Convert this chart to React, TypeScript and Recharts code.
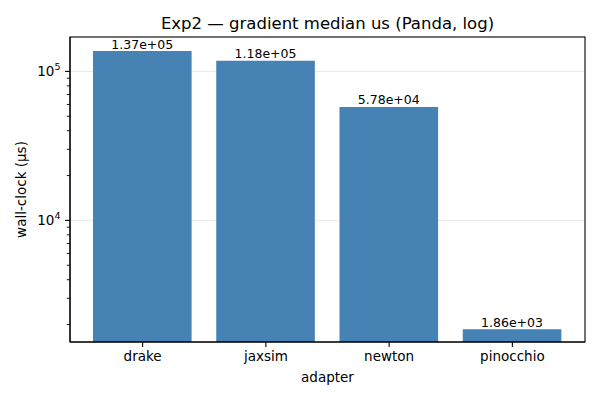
import { BarChart, Bar, XAxis, YAxis, CartesianGrid, LabelList } from "recharts"

const adapters = ["drake", "jaxsim", "newton", "pinocchio"]
const medianUs = [137000, 118000, 57800, 1860]
const majorTicks = [10000, 100000]
const minorTicks = [2000, 3000, 4000, 5000, 6000, 7000, 8000, 9000, 20000, 30000, 40000, 50000, 60000, 70000, 80000, 90000]

const data = adapters.map((name, i) => ({ name, value: medianUs[i] }))

const FONT = "DejaVu Sans, sans-serif"

// plot box, matches the chart margins below
const PLOT = { left: 70, top: 37, right: 585, bottom: 342 }

function sci(v: number) {
    const [m, e] = v.toExponential(2).split("e")
    const n = parseInt(e, 10)
    const sign = n < 0 ? "-" : "+"
    return `${m}e${sign}${String(Math.abs(n)).padStart(2, "0")}`
}

function YTick(props: any) {
    const { x, y, payload } = props
    const v = payload.value as number
    const major = majorTicks.includes(v)
    if (!major) {
        return <line x1={x} x2={x - 3.2} y1={y} y2={y} stroke="#000" strokeWidth={0.9} />
    }
    const exp = Math.round(Math.log10(v))
    return (
        <g>
            <line x1={x} x2={x - 5} y1={y} y2={y} stroke="#000" strokeWidth={1.1} />
            <text x={x - 9.5} y={y + 4.5} textAnchor="end" fontFamily={FONT} fontSize={13.5} fill="#000">
                10
                <tspan dy={-6} fontSize={9.5}>{exp}</tspan>
            </text>
        </g>
    )
}

export default function App() {
    const ticks = [...minorTicks, ...majorTicks].sort((a, b) => a - b)
    return (
        <div style={{ position: "absolute", left: 0, top: 0, width: 600, height: 400, background: "#fff" }}>
            <BarChart
                width={600}
                height={400}
                data={data}
                margin={{ top: PLOT.top, right: 600 - PLOT.right, bottom: 0, left: 0 }}
                barSize={98.6}
            >
                <CartesianGrid vertical={false} horizontalValues={majorTicks} stroke="#e3e3e3" strokeWidth={0.8} />
                <XAxis
                    dataKey="name"
                    height={400 - PLOT.bottom}
                    padding={{ left: 11, right: 11 }}
                    tickSize={5}
                    tickMargin={4}
                    tick={{ fill: "#000", fontSize: 13.5, fontFamily: FONT }}
                    tickLine={{ stroke: "#000", strokeWidth: 1.1 }}
                    axisLine={{ stroke: "#000", strokeWidth: 1.1 }}
                />
                <YAxis
                    scale="log"
                    type="number"
                    domain={[1527, 170200]}
                    allowDataOverflow
                    ticks={ticks}
                    interval={0}
                    width={PLOT.left}
                    tickSize={0}
                    tickMargin={0}
                    tickLine={false}
                    tick={<YTick />}
                    axisLine={{ stroke: "#000", strokeWidth: 1.1 }}
                />
                <Bar dataKey="value" fill="#4682b4" isAnimationActive={false}>
                    <LabelList
                        dataKey="value"
                        position="top"
                        offset={2.5}
                        formatter={(v: any) => sci(Number(v))}
                        style={{ fontFamily: FONT, fontSize: 12.5, fill: "#000" }}
                    />
                </Bar>
            </BarChart>
            <svg width={600} height={400} style={{ position: "absolute", left: 0, top: 0, pointerEvents: "none" }}>
                <rect
                    x={PLOT.left}
                    y={PLOT.top}
                    width={PLOT.right - PLOT.left}
                    height={PLOT.bottom - PLOT.top}
                    fill="none"
                    stroke="#000"
                    strokeWidth={1.1}
                />
                <text x={327.5} y={29} textAnchor="middle" fontFamily={FONT} fontSize={16.5} fill="#000">
                    Exp2 — gradient median us (Panda, log)
                </text>
                <text x={327.5} y={382} textAnchor="middle" fontFamily={FONT} fontSize={13.5} fill="#000">
                    adapter
                </text>
                <text
                    x={0}
                    y={0}
                    transform="translate(26 189.5) rotate(-90)"
                    textAnchor="middle"
                    fontFamily={FONT}
                    fontSize={13.5}
                    fill="#000"
                >
                    wall-clock (µs)
                </text>
            </svg>
        </div>
    )
}
